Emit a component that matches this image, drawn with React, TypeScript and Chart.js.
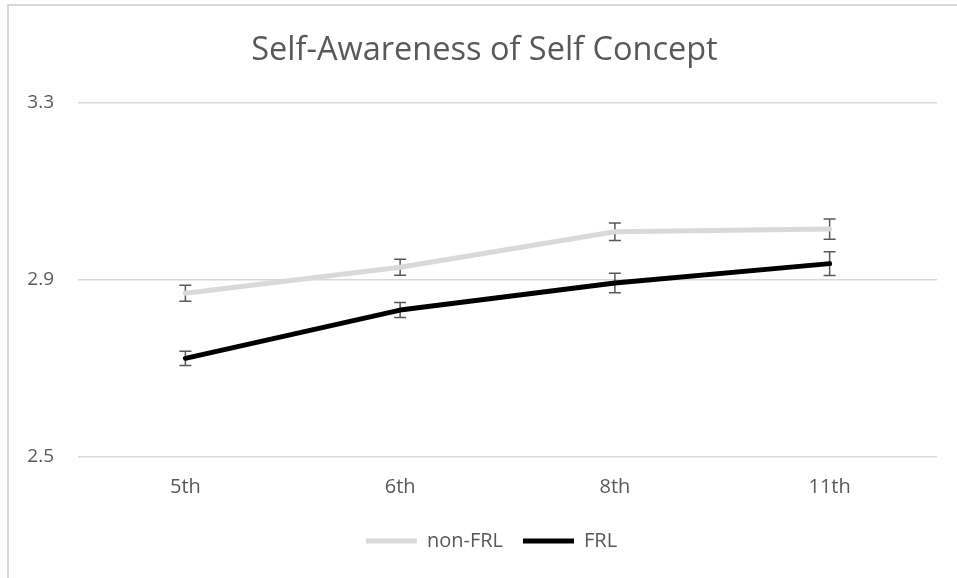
import React, { useEffect, useRef } from "react";
import { Chart, registerables } from "chart.js";

Chart.register(...registerables);

const categories = ["5th", "6th", "8th", "11th"];
const nonFrlValues = [2.870, 2.929, 3.009, 3.015];
const nonFrlErrors = [0.018, 0.018, 0.020, 0.023];
const frlValues = [2.723, 2.832, 2.893, 2.937];
const frlErrors = [0.016, 0.017, 0.022, 0.027];
const titleText = "Self-Awareness of Self Concept";
const yMin = 2.5;
const yMax = 3.3;
const yStep = 0.4;

const FONT = "'Open Sans', 'Noto Sans', sans-serif";
const TEXT = "#595959";
const GRID = "#D9D9D9";

const errorBarPlugin = {
  id: "errorBars",
  beforeDatasetsDraw(chart: any) {
    const ctx = chart.ctx;
    const yScale = chart.scales.y;
    const errorSets = [nonFrlErrors, frlErrors];
    chart.data.datasets.forEach((ds: any, di: number) => {
      const meta = chart.getDatasetMeta(di);
      const errs = errorSets[di];
      ctx.save();
      ctx.strokeStyle = TEXT;
      ctx.lineWidth = 1.5;
      meta.data.forEach((pt: any, i: number) => {
        const v = ds.data[i];
        const e = errs[i];
        const x = pt.x;
        const yt = yScale.getPixelForValue(v + e);
        const yb = yScale.getPixelForValue(v - e);
        const cap = 6;
        ctx.beginPath();
        ctx.moveTo(x, yt);
        ctx.lineTo(x, yb);
        ctx.moveTo(x - cap, yt);
        ctx.lineTo(x + cap, yt);
        ctx.moveTo(x - cap, yb);
        ctx.lineTo(x + cap, yb);
        ctx.stroke();
      });
      ctx.restore();
    });
  },
};

const boxShiftPlugin = {
  id: "boxShift",
  afterLayout(chart: any) {
    const lg = chart.legend;
    if (lg) {
      lg.left += 19;
      lg.right += 19;
    }
    const tt = chart.titleBlock;
    if (tt) {
      tt.left += 12;
      tt.right += 12;
    }
  },
};

export default function App() {
  const canvasRef = useRef<HTMLCanvasElement | null>(null);

  useEffect(() => {
    document.body.style.overflow = "hidden";
    const canvas = canvasRef.current;
    if (!canvas) return;
    const chart = new Chart(canvas, {
      type: "line",
      data: {
        labels: categories,
        datasets: [
          {
            label: "non-FRL",
            data: nonFrlValues,
            borderColor: "#D9D9D9",
            backgroundColor: "#D9D9D9",
            borderWidth: 5,
            pointRadius: 0,
            tension: 0,
            borderCapStyle: "round",
            borderJoinStyle: "round",
            pointStyle: "line",
          },
          {
            label: "FRL",
            data: frlValues,
            borderColor: "#000000",
            backgroundColor: "#000000",
            borderWidth: 5,
            pointRadius: 0,
            tension: 0,
            borderCapStyle: "round",
            borderJoinStyle: "round",
            pointStyle: "line",
          },
        ],
      },
      options: {
        responsive: false,
        animation: false,
        layout: { padding: { left: 8, right: 20, top: 0, bottom: 17 } },
        plugins: {
          title: {
            display: true,
            text: titleText,
            color: TEXT,
            font: { family: FONT, size: 32.5, weight: "normal" },
            padding: { top: 31, bottom: 33 },
          },
          legend: {
            position: "bottom",
            labels: {
              usePointStyle: true,
              pointStyleWidth: 51,
              padding: 20,
              color: TEXT,
              font: { family: FONT, size: 20 },
            },
          },
          tooltip: { enabled: false },
        },
        scales: {
          x: {
            offset: true,
            grid: { display: false, drawTicks: false },
            border: { display: false },
            ticks: {
              color: TEXT,
              font: { family: FONT, size: 20 },
              padding: 18,
            },
            afterFit(scale: any) {
              scale.height = 54;
            },
          },
          y: {
            min: yMin,
            max: yMax,
            grid: { color: GRID, lineWidth: 1.5, drawTicks: false },
            border: { display: false },
            ticks: {
              stepSize: yStep,
              color: TEXT,
              font: { family: FONT, size: 19 },
              padding: 24,
              callback: (v: any) => Number(v).toFixed(1),
            },
            afterFit(scale: any) {
              scale.width = 70;
            },
          },
        },
      },
      plugins: [errorBarPlugin, boxShiftPlugin],
    });
    return () => chart.destroy();
  }, []);

  return (
    <>
      <div
        style={{
          position: "absolute",
          left: 7,
          top: 4,
          width: 950,
          height: 574,
          boxSizing: "border-box",
          borderLeft: "2px solid #D9D9D9",
          borderTop: "2px solid #D9D9D9",
        }}
      />
      <canvas
        ref={canvasRef}
        width={957}
        height={578}
        style={{ position: "absolute", left: 0, top: 0, width: 957, height: 578 }}
      />
    </>
  );
}
